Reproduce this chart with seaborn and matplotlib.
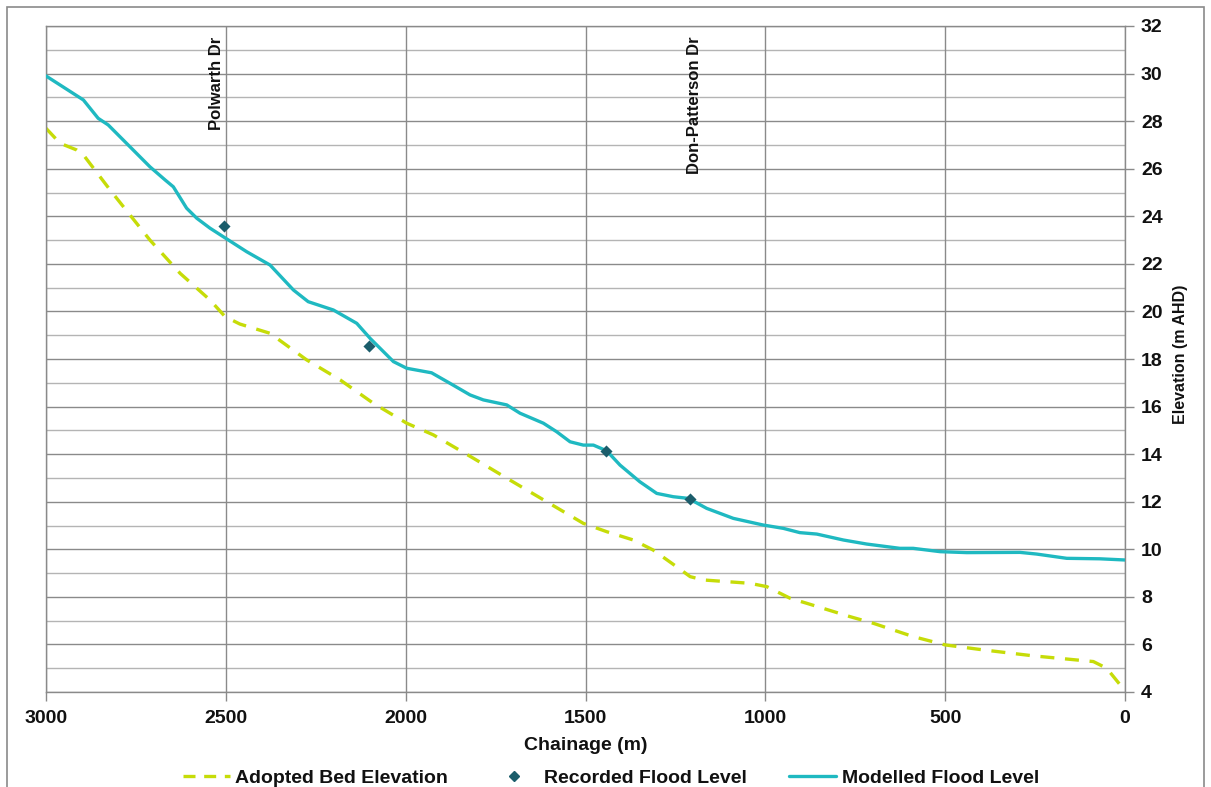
import numpy as np
import pandas as pd
import matplotlib
matplotlib.use("Agg")
import matplotlib.pyplot as plt
from matplotlib.lines import Line2D
from matplotlib.patches import Rectangle
import seaborn as sns

# Modelled flood level profile (chainage m, elevation m AHD)
modelled_chainage = [3000, 2896, 2855, 2827, 2711, 2669, 2646, 2609, 2581, 2544, 2507,
                     2442, 2377, 2312, 2271, 2201, 2136, 2099, 2034, 1997, 1928, 1877,
                     1821, 1784, 1719, 1682, 1617, 1580, 1543, 1506, 1478, 1441, 1404,
                     1349, 1302, 1256, 1214, 1163, 1089, 1006, 950, 904, 857, 783, 718,
                     626, 589, 514, 440, 292, 246, 162, 70, 0]
modelled_level = [29.90, 28.89, 28.12, 27.84, 26.08, 25.53, 25.24, 24.34, 23.92, 23.50, 23.14,
                  22.51, 21.95, 20.90, 20.41, 20.06, 19.50, 18.87, 17.89, 17.61, 17.42, 16.98,
                  16.49, 16.28, 16.07, 15.72, 15.30, 14.94, 14.52, 14.38, 14.38, 14.14, 13.54,
                  12.84, 12.35, 12.21, 12.14, 11.72, 11.30, 11.02, 10.88, 10.70, 10.64, 10.39, 10.22,
                  10.04, 10.04, 9.90, 9.86, 9.87, 9.80, 9.62, 9.60, 9.55]

# Adopted bed elevation
bed_chainage = [3000, 2961, 2915, 2896, 2822, 2711, 2627, 2544, 2502, 2461, 2377, 2275,
                2182, 2090, 1997, 1923, 1812, 1710, 1608, 1506, 1441, 1367, 1312, 1247,
                1209, 1172, 1043, 996, 931, 885, 765, 700, 589, 500, 394, 255, 88, 51, 0]
bed_level = [27.70, 27.07, 26.79, 26.58, 25.11, 23.00, 21.60, 20.48, 19.78, 19.47, 19.08, 17.96,
             17.12, 16.14, 15.30, 14.81, 13.83, 12.91, 12.00, 11.09, 10.74, 10.39, 9.97, 9.27,
             8.85, 8.71, 8.57, 8.43, 7.94, 7.73, 7.17, 6.89, 6.33, 5.98, 5.77, 5.52, 5.28, 5.00, 4.05]

# Recorded flood levels
recorded_chainage = [2505, 2102, 1443, 1209]
recorded_level = [23.59, 18.55, 14.13, 12.11]

# Road crossings
road_names = ["Polwarth Dr", "Don-Patterson Dr"]
road_chainage = [2525, 1196]

y_ticks = list(range(4, 33, 2))
x_ticks = [3000, 2500, 2000, 1500, 1000, 500, 0]

sns.set_theme(style="white")
plt.rcParams["font.family"] = ["Liberation Sans", "DejaVu Sans"]

bed_df = pd.DataFrame({"Chainage": bed_chainage, "Elevation": bed_level})
mod_df = pd.DataFrame({"Chainage": modelled_chainage, "Elevation": modelled_level})
rec_df = pd.DataFrame({"Chainage": recorded_chainage, "Elevation": recorded_level})

bed_color = "#c6dc08"
mod_color = "#1fb9c1"
rec_color = "#1b5d6b"
grid_major = "#8a8a8a"
grid_minor = "#b4b4b4"
text_color = "#111111"
fs = 14

fig = plt.figure(figsize=(12.11, 7.87), dpi=100)
ax = fig.add_axes([46 / 1211, 1 - 692 / 787, (1125 - 46) / 1211, (692 - 26) / 787])

# grid
for v in range(4, 33):
    ax.axhline(v, color=grid_major if v % 2 == 0 else grid_minor, lw=1.0, zorder=0)
for c in x_ticks:
    ax.axvline(c, color=grid_major, lw=1.0, zorder=0)

sns.lineplot(data=bed_df, x="Chainage", y="Elevation", ax=ax, color=bed_color,
             lw=2.4, sort=False, estimator=None, zorder=2)
ax.lines[-1].set_dashes([4.2, 3.2])
sns.lineplot(data=mod_df, x="Chainage", y="Elevation", ax=ax, color=mod_color,
             lw=2.4, sort=False, estimator=None, zorder=3)
sns.scatterplot(data=rec_df, x="Chainage", y="Elevation", ax=ax, color=rec_color,
                marker="D", s=38, edgecolor=rec_color, linewidth=0, zorder=4)

ax.set_xlim(3000, 0)
ax.set_ylim(4, 32)
ax.set_xticks(x_ticks)
ax.set_yticks(y_ticks)
ax.yaxis.tick_right()
ax.tick_params(axis="both", which="major", direction="out", length=6.5, width=1,
               color=grid_major, labelsize=fs, pad=5)
ax.tick_params(axis="x", pad=6.5)
ax.tick_params(axis="y", right=True, left=False)
ax.tick_params(axis="x", bottom=True)
for lab in ax.get_xticklabels() + ax.get_yticklabels():
    lab.set_fontweight("bold")
    lab.set_color(text_color)

ax.set_xlabel("Chainage (m)", fontsize=fs, fontweight="bold", color=text_color, labelpad=7)
ax.set_ylabel("Elevation (m AHD)", fontsize=11.5, fontweight="bold", color=text_color,
              rotation=90)
ax.yaxis.set_label_coords((1181 - 46) / 1079, (692 - 354) / 666)
ax.yaxis.label.set_va("center")
ax.yaxis.label.set_ha("center")
ax.yaxis.label.set_rotation_mode("anchor")
for s in ax.spines.values():
    s.set_color(grid_major)
    s.set_linewidth(1.0)

for name, ch in zip(road_names, road_chainage):
    ax.text(ch, 31.55, name, rotation=90, ha="center", va="top", fontsize=12,
            fontweight="bold", color=text_color)

handles = [
    Line2D([], [], color=bed_color, lw=2.4, dashes=[3.6, 2.6]),
    Line2D([], [], color=rec_color, marker="D", ls="none", markersize=5),
    Line2D([], [], color=mod_color, lw=2.4),
]
labels = ["Adopted Bed Elevation", "Recorded Flood Level", "Modelled Flood Level"]
fig.legend(handles, labels, loc="center", bbox_to_anchor=(611 / 1211, 1 - 778 / 787),
           ncol=3, frameon=False, prop={"size": fs, "weight": "bold"},
           handlelength=2.4, columnspacing=2.2, handletextpad=0.3,
           labelcolor=text_color)

fig.patches.append(Rectangle((7 / 1211, -0.01), 1197 / 1211, 1 - 7 / 787 + 0.01,
                             transform=fig.transFigure, fill=False,
                             edgecolor="#8a8a8a", lw=1.2))

fig.savefig("out.png", dpi=100)
